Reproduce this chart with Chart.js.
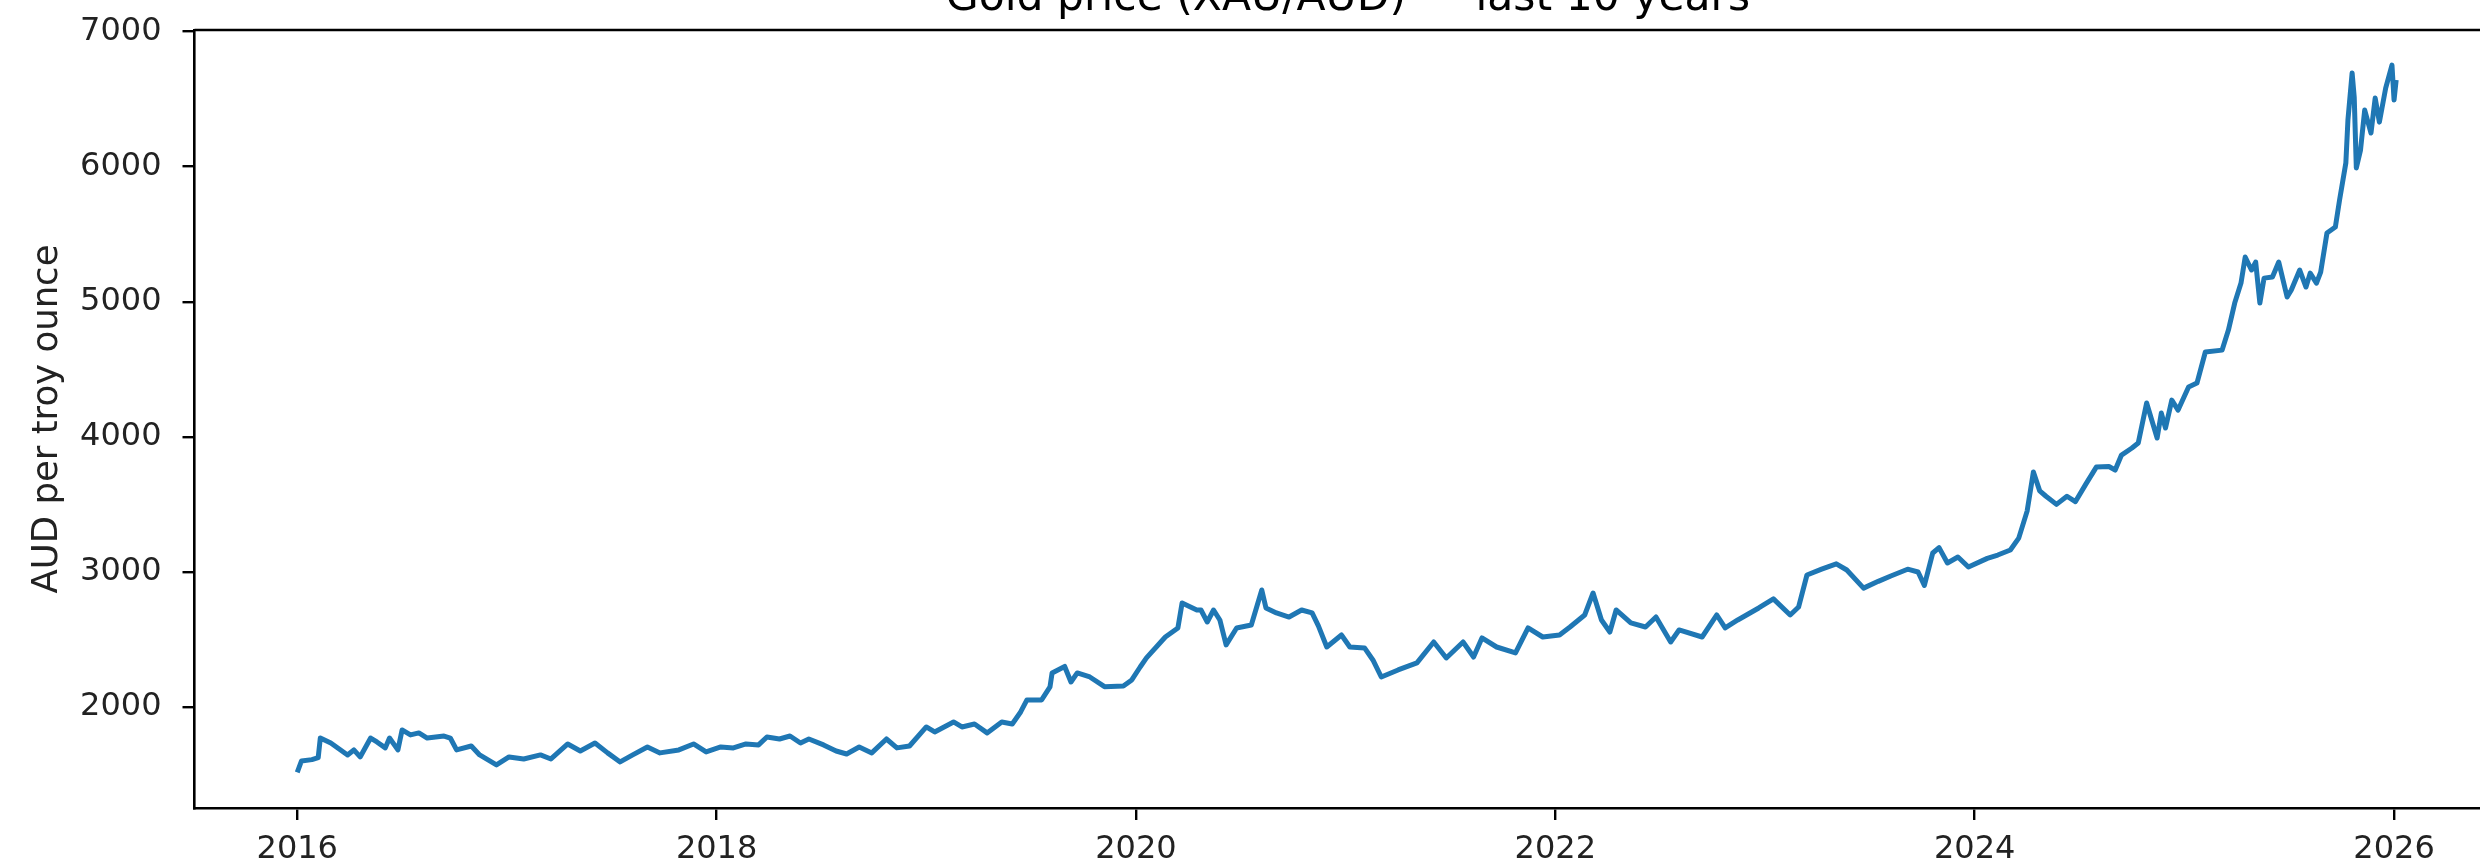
<!DOCTYPE html>
<html>
<head>
<meta charset="utf-8">
<script src="https://cdn.jsdelivr.net/npm/chart.js@4.4.1/dist/chart.umd.min.js"></script>
<style>
  html, body { margin: 0; padding: 0; background: #fff; overflow: hidden; }
  #wrap { position: relative; width: 2480px; height: 862px; overflow: hidden; background: #fff; }
  #title {
    position: absolute; left: 0; top: -25px; width: 2696px;
    text-align: center; font-family: "DejaVu Sans"; font-size: 42.5px;
    line-height: 1; color: #000; white-space: nowrap;
  }
  canvas { position: absolute; left: 0; top: -20px; }
</style>
</head>
<body>
<div id="wrap">
  <canvas id="goldChart" width="2540" height="882"></canvas>
  <div id="title">Gold price (XAU/AUD) — last 10 years</div>
</div>
<script>
// values (decimal year, AUD per troy ounce)
const years = [
  2016.00, 2016.02, 2016.07, 2016.10, 2016.11, 2016.16, 2016.24, 2016.27, 2016.30, 2016.35,
  2016.38, 2016.42, 2016.44, 2016.48, 2016.50, 2016.54, 2016.58, 2016.62, 2016.70, 2016.73,
  2016.76, 2016.83, 2016.87, 2016.95, 2017.01, 2017.08, 2017.16, 2017.21, 2017.29, 2017.35,
  2017.42, 2017.48, 2017.54, 2017.60, 2017.67, 2017.73, 2017.82, 2017.89, 2017.95, 2018.02,
  2018.08, 2018.14, 2018.20, 2018.24, 2018.30, 2018.35, 2018.40, 2018.44, 2018.51, 2018.57,
  2018.62, 2018.68, 2018.74, 2018.81, 2018.86, 2018.92, 2019.00, 2019.04, 2019.13, 2019.17,
  2019.23, 2019.29, 2019.36, 2019.41, 2019.45, 2019.48, 2019.55, 2019.59, 2019.60, 2019.66,
  2019.69, 2019.72, 2019.78, 2019.85, 2019.94, 2019.98, 2020.02, 2020.05, 2020.14, 2020.20,
  2020.22, 2020.29, 2020.31, 2020.34, 2020.37, 2020.40, 2020.43, 2020.48, 2020.55, 2020.60,
  2020.62, 2020.67, 2020.73, 2020.79, 2020.84, 2020.87, 2020.91, 2020.98, 2021.02, 2021.09,
  2021.13, 2021.17, 2021.25, 2021.34, 2021.42, 2021.48, 2021.56, 2021.61, 2021.65, 2021.72,
  2021.81, 2021.87, 2021.94, 2022.02, 2022.07, 2022.14, 2022.18, 2022.22, 2022.26, 2022.29,
  2022.36, 2022.43, 2022.48, 2022.55, 2022.59, 2022.70, 2022.77, 2022.81, 2022.87, 2022.97,
  2023.04, 2023.12, 2023.16, 2023.20, 2023.27, 2023.34, 2023.39, 2023.47, 2023.54, 2023.60,
  2023.68, 2023.73, 2023.76, 2023.80, 2023.83, 2023.87, 2023.92, 2023.97, 2024.06, 2024.11,
  2024.17, 2024.21, 2024.25, 2024.28, 2024.31, 2024.34, 2024.39, 2024.44, 2024.48, 2024.53,
  2024.58, 2024.64, 2024.67, 2024.70, 2024.75, 2024.78, 2024.82, 2024.87, 2024.89, 2024.91,
  2024.94, 2024.97, 2025.02, 2025.06, 2025.10, 2025.18, 2025.21, 2025.24, 2025.27, 2025.29,
  2025.32, 2025.34, 2025.36, 2025.38, 2025.42, 2025.45, 2025.49, 2025.51, 2025.55, 2025.58,
  2025.60, 2025.63, 2025.65, 2025.68, 2025.72, 2025.74, 2025.77, 2025.78, 2025.80, 2025.81,
  2025.82, 2025.84, 2025.86, 2025.89, 2025.91, 2025.93, 2025.96, 2025.99, 2026.00, 2026.01
];
const prices = [
  1515, 1600, 1610, 1625, 1771, 1733, 1645, 1682, 1630, 1770,
  1741, 1697, 1770, 1682, 1830, 1793, 1808, 1770, 1785, 1770,
  1682, 1711, 1645, 1571, 1630, 1615, 1645, 1615, 1726, 1674,
  1733, 1660, 1593, 1645, 1704, 1660, 1682, 1726, 1667, 1704,
  1697, 1726, 1719, 1778, 1763, 1785, 1733, 1763, 1719, 1674,
  1652, 1704, 1660, 1763, 1697, 1711, 1852, 1815, 1889, 1852,
  1874, 1808, 1889, 1874, 1963, 2052, 2052, 2148, 2252, 2300,
  2185, 2252, 2222, 2150, 2155, 2200, 2296, 2363, 2518, 2585,
  2770, 2718, 2718, 2629, 2718, 2644, 2460, 2585, 2607, 2866,
  2733, 2696, 2666, 2718, 2696, 2600, 2444, 2533, 2444, 2437,
  2348, 2222, 2274, 2326, 2481, 2363, 2481, 2370, 2511, 2444,
  2400, 2585, 2518, 2533, 2592, 2681, 2844, 2644, 2555, 2718,
  2622, 2592, 2666, 2481, 2570, 2518, 2681, 2585, 2644, 2733,
  2800, 2681, 2740, 2977, 3020, 3060, 3014, 2880, 2930, 2970,
  3020, 2999, 2900, 3140, 3180, 3066, 3110, 3036, 3100, 3125,
  3162, 3250, 3450, 3740, 3600, 3560, 3500, 3560, 3520, 3650,
  3776, 3780, 3754, 3865, 3917, 3954, 4250, 3991, 4176, 4065,
  4272, 4198, 4369, 4398, 4628, 4642, 4790, 4990, 5138, 5331,
  5235, 5294, 4990, 5175, 5183, 5294, 5035, 5087, 5235, 5109,
  5212, 5138, 5220, 5509, 5553, 5753, 6027, 6345, 6693, 6515,
  5990, 6123, 6419, 6249, 6508, 6330, 6582, 6752, 6493, 6641
];

const xTicks = [2016, 2018, 2020, 2022, 2024, 2026];
const yTicks = [2000, 3000, 4000, 5000, 6000, 7000];
const xMin = 2015.51, xMax = 2026.51;
const yMin = 1252, yMax = 7012;

const fontFamily = '"DejaVu Sans"';
const tickFont = { family: fontFamily, size: 32 };

// top and right spines (matplotlib box)
const frame = {
  id: 'frame',
  afterDraw(chart) {
    const { ctx, chartArea: a } = chart;
    ctx.save();
    ctx.strokeStyle = '#000';
    ctx.lineWidth = 2.6;
    ctx.beginPath();
    ctx.moveTo(a.left, a.top);
    ctx.lineTo(a.right, a.top);
    ctx.lineTo(a.right, a.bottom);
    ctx.stroke();
    ctx.restore();
  }
};

const points = years.map((x, i) => ({ x: x, y: prices[i] }));

new Chart(document.getElementById('goldChart').getContext('2d'), {
  type: 'line',
  data: {
    datasets: [{
      data: points,
      borderColor: '#1f77b4',
      borderWidth: 5,
      borderJoinStyle: 'round',
      pointRadius: 0,
      tension: 0,
      fill: false
    }]
  },
  options: {
    responsive: false,
    animation: false,
    devicePixelRatio: 1,
    // canvas sits 20px above the page, so 50 here puts the axes top at 30
    layout: { padding: { left: 0, top: 50, right: 39, bottom: 0 } },
    plugins: { legend: { display: false }, tooltip: { enabled: false } },
    scales: {
      x: {
        type: 'linear',
        min: xMin,
        max: xMax,
        afterBuildTicks: s => { s.ticks = xTicks.map(v => ({ value: v })); },
        afterFit: s => { s.height = 54; },
        grid: { display: true, drawOnChartArea: false, drawTicks: true, tickLength: 12, color: '#000', lineWidth: 2.4 },
        border: { display: true, color: '#000', width: 2.6 },
        ticks: { font: tickFont, color: '#222', padding: 10, maxRotation: 0, autoSkip: false, callback: v => String(v) }
      },
      y: {
        type: 'linear',
        min: yMin,
        max: yMax,
        afterBuildTicks: s => { s.ticks = yTicks.map(v => ({ value: v })); },
        afterFit: s => { s.width = 194.5; },
        grid: { display: true, drawOnChartArea: false, drawTicks: true, tickLength: 12, color: '#000', lineWidth: 2.4 },
        border: { display: true, color: '#000', width: 2.6 },
        ticks: { font: tickFont, color: '#222', padding: 21, autoSkip: false, callback: v => String(v) },
        title: {
          display: true,
          text: 'AUD per troy ounce',
          font: { family: fontFamily, size: 35.5 },
          color: '#222',
          padding: { top: 26, bottom: 0 }
        }
      }
    }
  },
  plugins: [frame]
});
</script>
</body>
</html>
